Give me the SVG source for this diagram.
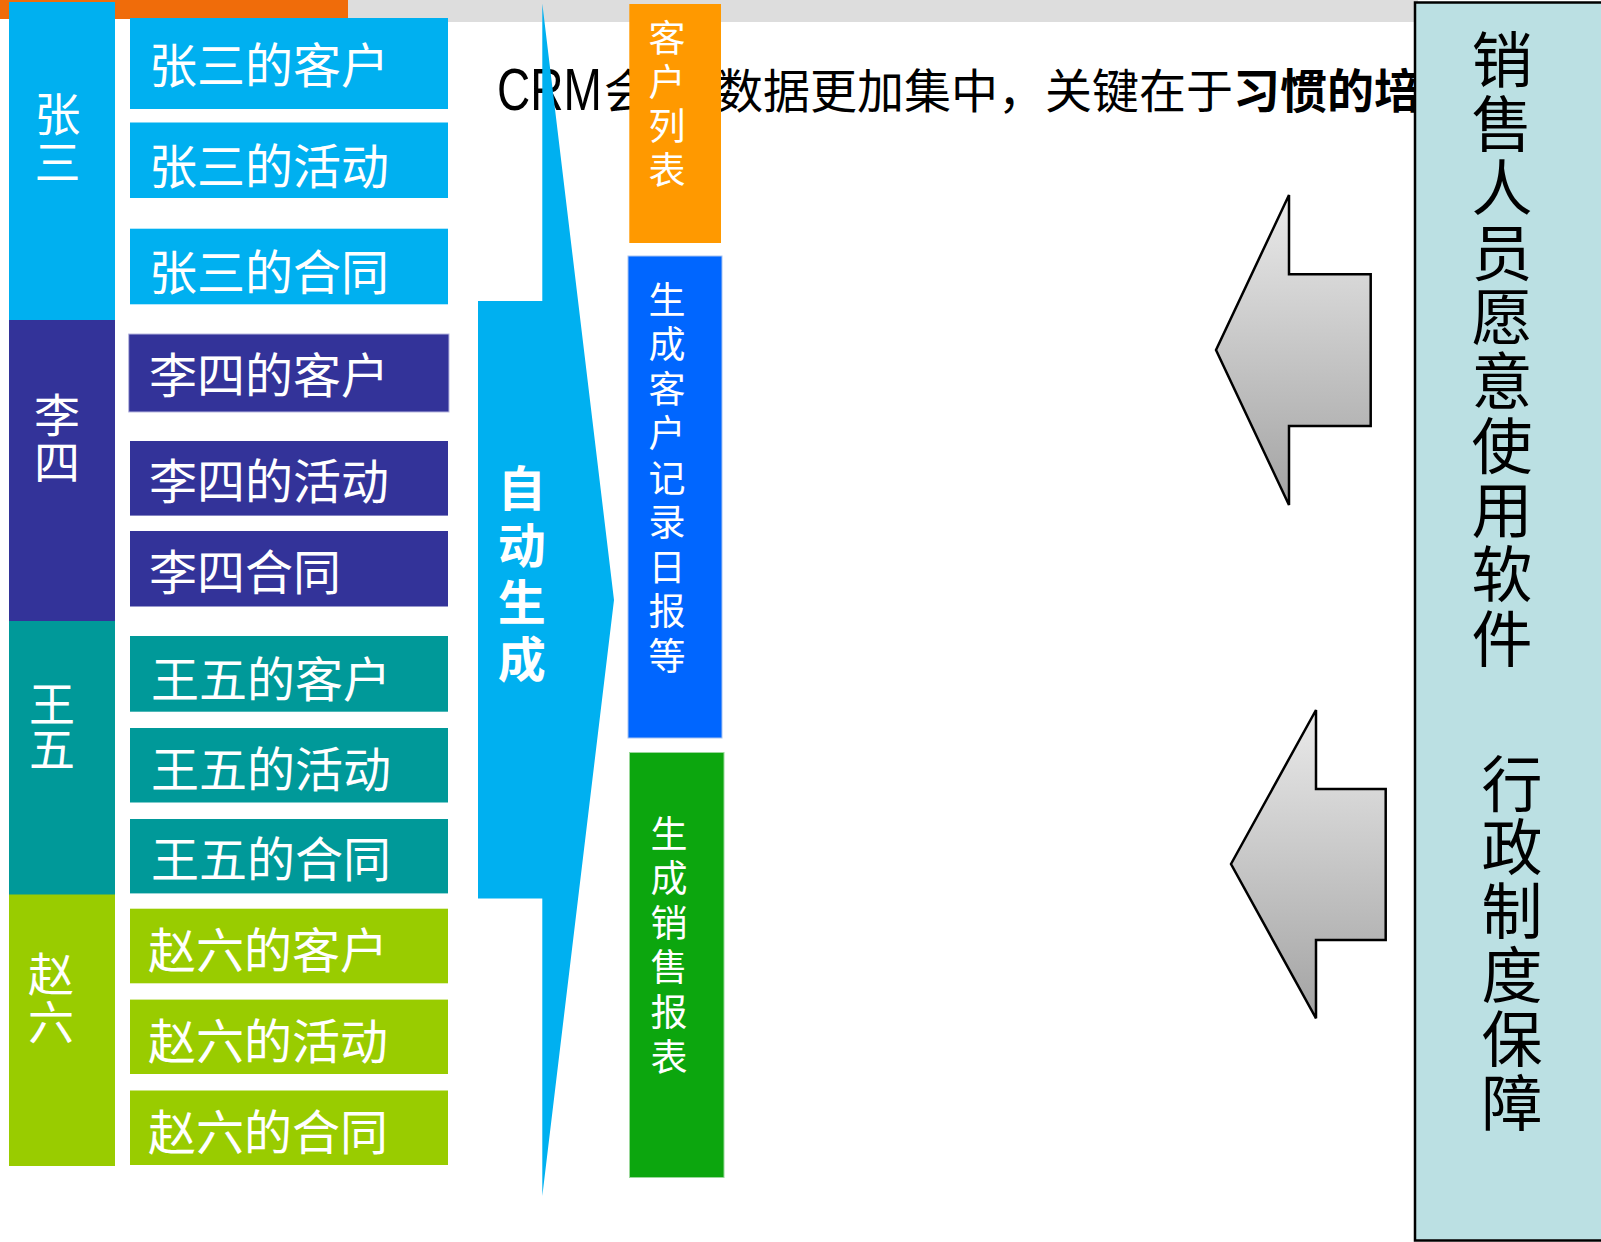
<svg xmlns="http://www.w3.org/2000/svg" width="1601" height="1242" viewBox="0 0 1601 1242">
<defs>
<linearGradient id="gArrow" x1="0" y1="0" x2="0" y2="1">
<stop offset="0" stop-color="#EAEAEA"/>
<stop offset="1" stop-color="#A3A3A3"/>
</linearGradient>
<style>
.cjk{font-family:"Noto Sans CJK SC","Noto Sans",sans-serif;}
.item{font-family:"Noto Sans CJK SC",sans-serif;font-size:48px;fill:#FFFFFF;dominant-baseline:central;}
.vt{writing-mode:vertical-rl;text-orientation:upright;font-family:"Noto Sans CJK SC",sans-serif;}
.vname{font-size:46px;fill:#FFFFFF;}
.vlab{font-size:37px;fill:#FFFFFF;}
.vbig{font-size:48px;font-weight:bold;fill:#FFFFFF;}
.vside{font-size:61px;fill:#000000;}
.zs{fill:#00B0F0;}
.ls{fill:#333399;}
.ww{fill:#009999;}
.zl{fill:#99CC00;}
.garrow{fill:url(#gArrow);stroke:#000000;stroke-width:2.5;stroke-linejoin:miter;}
</style>
</defs>
<rect x="0" y="0" width="1601" height="1242" fill="#FFFFFF"/>
<rect x="348" y="0" width="1070" height="22" fill="#DDDDDD"/>
<rect x="0" y="0" width="348" height="19" fill="#F06C0A"/>

<g id="title">
<text transform="translate(497,110) scale(1,1.27)" font-family="Liberation Sans,Arial,sans-serif" font-size="46" fill="#000000">CRM</text>
<text x="604" y="108" class="cjk" font-size="47" fill="#000000">会</text>
<text x="716" y="108" class="cjk" font-size="47" fill="#000000">数据更加集中，关键在于<tspan font-weight="bold">习惯的培</tspan></text>
</g>

<g id="col-zhangsan">
<rect class="zs" x="9" y="2" width="106" height="318"/>
<text class="vt vname" x="57.5" y="91" letter-spacing="2">张三</text>
</g>
<g id="col-lisi">
<rect class="ls" x="9" y="320" width="106" height="301"/>
<text class="vt vname" x="57" y="392" letter-spacing="1">李四</text>
</g>
<g id="col-wangwu">
<rect class="ww" x="9" y="621" width="106" height="274"/>
<text class="vt vname" x="52" y="681" letter-spacing="-1">王五</text>
</g>
<g id="col-zhaoliu">
<rect class="zl" x="9" y="894.5" width="106" height="271.5"/>
<text class="vt vname" x="51" y="951" letter-spacing="2">赵六</text>
</g>

<g id="zs-customers"><rect class="zs" x="130" y="18" width="318" height="91"/><text class="item" x="149" y="61.5">张三的客户</text></g>
<g id="zs-activities"><rect class="zs" x="130" y="122.5" width="318" height="75.5"/><text class="item" x="149" y="163">张三的活动</text></g>
<g id="zs-contracts"><rect class="zs" x="130" y="228.7" width="318" height="75.6"/><text class="item" x="149" y="268.5">张三的合同</text></g>
<g id="ls-customers"><rect class="ls" x="128.7" y="334" width="320.3" height="78" stroke="#B8B8E0" stroke-width="1"/><text class="item" x="149" y="372">李四的客户</text></g>
<g id="ls-activities"><rect class="ls" x="130" y="441" width="318" height="74.6"/><text class="item" x="149" y="478">李四的活动</text></g>
<g id="ls-contracts"><rect class="ls" x="130" y="531" width="318" height="75.5"/><text class="item" x="149" y="568.5">李四合同</text></g>
<g id="ww-customers"><rect class="ww" x="130" y="636" width="318" height="75.7"/><text class="item" x="151" y="675.5">王五的客户</text></g>
<g id="ww-activities"><rect class="ww" x="130" y="728" width="318" height="74.5"/><text class="item" x="151" y="766">王五的活动</text></g>
<g id="ww-contracts"><rect class="ww" x="130" y="819" width="318" height="74.4"/><text class="item" x="151" y="856">王五的合同</text></g>
<g id="zl-customers"><rect class="zl" x="130" y="908.7" width="318" height="74.6"/><text class="item" x="148" y="947">赵六的客户</text></g>
<g id="zl-activities"><rect class="zl" x="130" y="999.6" width="318" height="74.4"/><text class="item" x="148" y="1038">赵六的活动</text></g>
<g id="zl-contracts"><rect class="zl" x="130" y="1090.5" width="318" height="74.5"/><text class="item" x="148" y="1128.5">赵六的合同</text></g>

<g id="connectors">
<g id="auto-generate-arrow">
<polygon points="478,301 542.3,301 542.3,3.5 614,600 542.3,1196 542.3,898.5 478,898.5" fill="#00B0F0"/>
<text class="vt vbig" x="521.8" y="464" letter-spacing="9">自动生成</text>
</g>
<polygon id="arrow-sales-willing" class="garrow" points="1216,350 1289,195 1289,274.3 1370.7,274.3 1370.7,426 1289,426 1289,505"/>
<polygon id="arrow-admin-policy" class="garrow" points="1231,864 1316,710 1316,789 1385.7,789 1385.7,940 1316,940 1316,1018.3"/>
</g>

<g id="customer-list">
<rect x="629.3" y="4" width="91.7" height="239" fill="#FF9900"/>
<text class="vt vlab" x="667" y="19" letter-spacing="7">客户列表</text>
</g>

<g id="customer-daily">
<rect x="628" y="256" width="94" height="482" fill="#0066FF" stroke="#A9C4F0" stroke-width="1"/>
<text class="vt vlab" x="667" y="281" letter-spacing="7.5">生成客户记录日报等</text>
</g>

<g id="sales-report">
<rect x="629.5" y="752.5" width="94.5" height="425" fill="#0CA60E" stroke="#9AD89A" stroke-width="1"/>
<text class="vt vlab" x="669" y="815" letter-spacing="7.6">生成销售报表</text>
</g>

<g id="guarantee-panel">
<rect x="1415" y="2.5" width="200" height="1238" fill="#BBE0E3" stroke="#000000" stroke-width="2.5"/>
<text class="vt vside" x="1502" y="29" letter-spacing="3.33">销售人员愿意使用软件</text>
<text class="vt vside" x="1512" y="753" letter-spacing="2.8">行政制度保障</text>
</g>
</svg>
